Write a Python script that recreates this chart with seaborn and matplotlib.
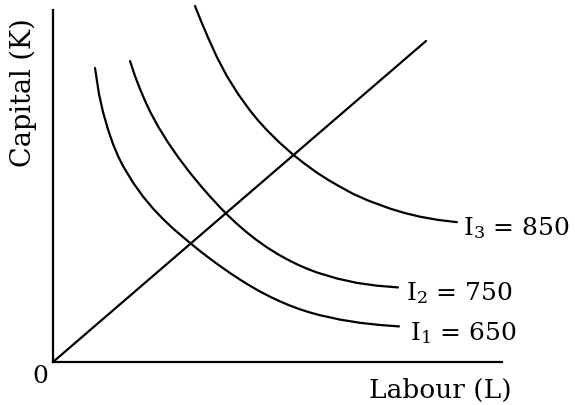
import matplotlib
matplotlib.use("Agg")
import matplotlib.pyplot as plt
import seaborn as sns
import pandas as pd

# isoquant readings (labour, capital) in chart units
i1_labour = [42, 46, 50, 55, 60, 65, 70, 80, 90, 100, 110, 120, 130, 137, 147, 157,
             167, 177, 187, 197, 207, 217, 227, 237, 247, 257, 267, 287, 307, 327, 346]
i1_capital = [294, 268, 250, 232.5, 218, 206, 196, 179.5, 165.5, 153.5, 143, 133.5, 125,
              119, 111, 103.3, 96, 89, 82.4, 76.2, 70.5, 65.3, 60.6, 56.4, 52.7, 49.5,
              46.8, 42.4, 39.2, 37, 35.6]

i2_labour = [77, 82, 87, 92, 97, 105, 115, 125, 137, 147, 157, 167, 173, 183, 193, 203,
             214, 224, 234, 244, 254, 264, 284, 304, 324, 345]
i2_capital = [301, 286, 273, 261.3, 250.5, 235.7, 219.5, 205, 189.2, 177, 165.5, 154.7,
              148.5, 139, 130.3, 122.4, 114.6, 108.3, 102.7, 97.7, 93.3, 89.5, 83.5,
              79.1, 76.3, 74.6]

i3_labour = [142, 148, 155, 164, 174, 185, 197, 205, 214, 226, 239, 251, 264, 276, 287,
             300, 315, 337, 352, 367, 385, 404]
i3_capital = [356, 341, 324.5, 304.7, 285.7, 268.1, 251.5, 241.7, 231.8, 219.9, 208.3,
              198.7, 189.3, 181.6, 175.3, 168.2, 161.5, 153.4, 148.9, 145.3, 142.1, 139.8]

# expansion path (ray from origin)
ray_labour = [0, 373]
ray_capital = [0, 321]

curve_labels = [r"I$_1$ = 650", r"I$_2$ = 750", r"I$_3$ = 850"]

sns.set_theme(style="white")
plt.rcParams["font.family"] = ["DejaVu Serif"]
plt.rcParams["mathtext.fontset"] = "dejavuserif"
plt.rcParams["text.color"] = "black"

fig = plt.figure(figsize=(5.75, 4.06), dpi=100)
ax = fig.add_axes([53 / 575, 43 / 406, 522 / 575, 363 / 406])

curves = [
    (i1_labour, i1_capital),
    (i2_labour, i2_capital),
    (i3_labour, i3_capital),
    (ray_labour, ray_capital),
]
for xs, ys in curves:
    df = pd.DataFrame({"L": xs, "K": ys})
    sns.lineplot(data=df, x="L", y="K", ax=ax, color="black", linewidth=1.6,
                 sort=True, clip_on=False)

ax.set_xlim(0, 522)
ax.set_ylim(0, 363)
ax.set_xticks([])
ax.set_yticks([])
ax.set_xlabel("")
ax.set_ylabel("")

sns.despine(ax=ax)
for side in ["left", "bottom"]:
    ax.spines[side].set_color("black")
    ax.spines[side].set_linewidth(1.6)
ax.spines["left"].set_bounds(0, 352)
ax.spines["bottom"].set_bounds(0, 449)

fs = 18
# labels at the right end of each isoquant
ax.text(i1_labour[-1] + 11, 23, curve_labels[0], fontsize=fs, ha="left", va="baseline")
ax.text(i2_labour[-1] + 8, 63, curve_labels[1], fontsize=fs, ha="left", va="baseline")
ax.text(i3_labour[-1] + 6, 128, curve_labels[2], fontsize=fs, ha="left", va="baseline")

ax.text(-13, -14, "0", fontsize=fs, ha="center", va="center")
ax.text(316, -35, "Labour (L)", fontsize=19, ha="left", va="baseline", clip_on=False)
ax.text(-30, 270, "Capital (K)", fontsize=19.5, ha="center", va="center",
        rotation=90, clip_on=False)

fig.savefig("out.png", dpi=100)
